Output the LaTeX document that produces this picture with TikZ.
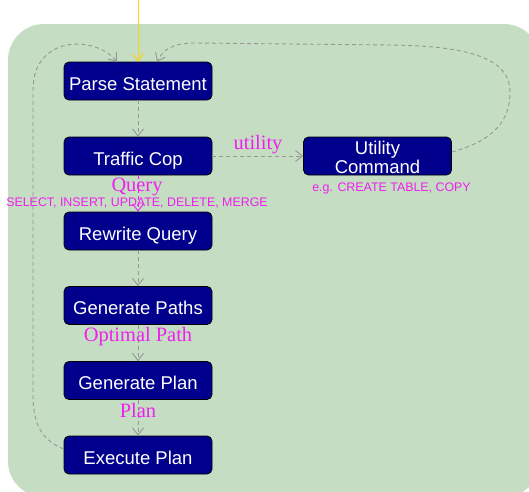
\documentclass[tikz,border=0pt]{standalone}
\usepackage{fontspec}
\setmainfont{Liberation Serif}
\setsansfont{Liberation Sans}
\usetikzlibrary{arrows.meta}
\definecolor{bggreen}{RGB}{197,222,195}
\definecolor{boxblue}{RGB}{0,0,140}
\definecolor{lblpink}{RGB}{240,30,240}
\definecolor{linegrey}{RGB}{150,150,150}
\definecolor{gold}{RGB}{250,210,20}
\tikzset{
  stage/.style={draw=black, line width=0.8pt, fill=boxblue, rounded corners=5pt,
    minimum width=148pt, minimum height=38pt, inner sep=0pt, text=white,
    font=\sffamily\fontsize{18.5}{17}\selectfont, align=center},
  oneline/.style={text height=18pt, text depth=0pt},
  flow/.style={draw=linegrey, line width=0.9pt, dash pattern=on 4pt off 3pt,
    -{Straight Barb[length=7pt,width=11pt,line width=0.9pt]}},
  qflow/.style={draw=lblpink, line width=0.9pt, dash pattern=on 4pt off 3pt,
    -{Straight Barb[length=7pt,width=11pt,line width=0.9pt]}},
  lbl/.style={text=lblpink, font=\rmfamily\fontsize{20.4}{22}\selectfont, inner sep=0pt},
  smalllbl/.style={text=lblpink, font=\sffamily\fontsize{12.4}{14}\selectfont, inner sep=0pt},
}
\begin{document}
\begin{tikzpicture}[x=1pt,y=-1pt]
\useasboundingbox (0,0) rectangle (529,491);
\begin{scope}
\clip (0,0) rectangle (529,491);
\fill[bggreen, rounded corners=36pt] (8,24) rectangle (540,497);
\end{scope}

\node[stage, oneline] (parse) at (138,81) {Parse Statement};
\node[stage, oneline] (traffic) at (138,156) {Traffic Cop};
\node[stage] (util) at (377.5,156) {\rule{0pt}{16pt}Utility\\Command};
\node[stage, oneline] (rewrite) at (138,231) {Rewrite Query};
\node[stage, oneline] (paths) at (138,305.5) {Generate Paths};
\node[stage, oneline] (plan) at (138,380.5) {Generate Plan};
\node[stage, oneline] (exec) at (138,455) {Execute Plan};

\coordinate (src) at (138,0);
\draw[draw=gold, line width=0.9pt, -{Straight Barb[length=7pt,width=11pt,line width=0.9pt]}] (src) -- (parse.north);

\draw[flow] (parse) -- (traffic);
\draw[flow] (traffic.east) -- (traffic.east -| util.west);
\node[lbl] (ulbl) at (258,145) {utility};
\draw[qflow] (traffic) -- (rewrite);
\node[lbl] (qlbl) at (137,187) {Query};
\node[smalllbl] (sel) at (137,203) {SELECT, INSERT, UPDATE, DELETE, MERGE};
\node[smalllbl] (eg) at (391.5,188) {e.g. CREATE TABLE, COPY};
\draw[flow] (rewrite) -- (paths);
\draw[flow] (paths) -- (plan);
\node[lbl] (oplbl) at (138,337) {Optimal Path};
\draw[flow] (plan) -- (exec);
\node[lbl] (pllbl) at (138,411) {Plan};

\draw[flow] ([yshift=6pt]exec.west) .. controls (42,440) and (33,425) .. (33,395)
  -- (33,90) .. controls (33,35) and (95,35) .. ([xshift=-21pt]parse.north);
\draw[flow] ([yshift=4pt]util.east) .. controls (495,140) and (510,120) .. (510,92)
  .. controls (510,55) and (460,46) .. (390,45) -- (195,43)
  .. controls (172,43) and (163,50) .. ([xshift=19pt]parse.north);
\end{tikzpicture}
\end{document}
